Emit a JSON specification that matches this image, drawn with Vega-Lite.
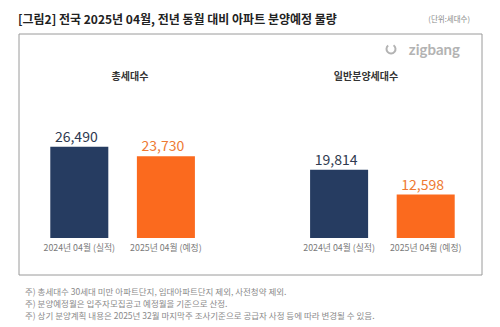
{
  "$schema": "https://vega.github.io/schema/vega-lite/v6.json",
  "width": 500,
  "height": 327,
  "autosize": {"type": "none"},
  "padding": 0,
  "background": "#ffffff",
  "config": {"view": {"stroke": null}, "text": {"font": "Noto Sans CJK KR"}},
  "datasets": {
    "bars": [
      {"id": "t24", "group": "총세대수", "period": "2024년 04월 (실적)", "type": "실적", "value": 26490},
      {"id": "t25", "group": "총세대수", "period": "2025년 04월 (예정)", "type": "예정", "value": 23730},
      {"id": "g24", "group": "일반분양세대수", "period": "2024년 04월 (실적)", "type": "실적", "value": 19814},
      {"id": "g25", "group": "일반분양세대수", "period": "2025년 04월 (예정)", "type": "예정", "value": 12598}
    ],
    "one": [{"k": 1}]
  },
  "layer": [
    {
      "data": {"name": "one"},
      "mark": {"type": "rect", "x": 19, "x2": 482, "y": 34, "y2": 275, "fill": null, "stroke": "#9a9a9a", "strokeWidth": 1},
      "encoding": {}
    },
    {
      "data": {"name": "one"},
      "mark": {"type": "rule", "x": 281, "y": 58, "y2": 232, "stroke": "#c4c4c4", "strokeWidth": 1, "strokeDash": [2, 2]},
      "encoding": {}
    },
    {
      "data": {"name": "one"},
      "mark": {"type": "rule", "x": 36, "x2": 470, "y": 238, "stroke": "#dddddd", "strokeWidth": 1},
      "encoding": {}
    },
    {
      "data": {"name": "bars"},
      "mark": {"type": "bar"},
      "encoding": {
        "x": {"field": "id", "type": "nominal", "axis": null,
              "scale": {"domain": ["t24", "t25", "gap", "g24", "g25"], "range": [36, 469], "paddingInner": 0.33, "paddingOuter": 0.165}},
        "y": {"field": "value", "type": "quantitative", "axis": null,
              "scale": {"domain": [0, 30000], "range": [238, 134.6], "nice": false, "zero": true}},
        "color": {"field": "type", "type": "nominal", "legend": null,
                  "scale": {"domain": ["실적", "예정"], "range": ["#263c61", "#fb6a1e"]}}
      }
    },
    {
      "data": {"name": "bars"},
      "mark": {"type": "text", "baseline": "bottom", "dy": -2, "dx": -3, "fontSize": 14, "fontWeight": "normal"},
      "encoding": {
        "x": {"field": "id", "type": "nominal", "axis": null,
              "scale": {"domain": ["t24", "t25", "gap", "g24", "g25"], "range": [36, 469], "paddingInner": 0.33, "paddingOuter": 0.165}},
        "y": {"field": "value", "type": "quantitative", "axis": null,
              "scale": {"domain": [0, 30000], "range": [238, 134.6], "nice": false, "zero": true}},
        "text": {"field": "value", "type": "quantitative", "format": ","},
        "color": {"condition": {"test": "datum.type === '실적'", "value": "#2f3a50"}, "value": "#ee7a33"}
      }
    },
    {
      "data": {"name": "bars"},
      "mark": {"type": "text", "y": 248, "baseline": "middle", "fontSize": 8.8, "color": "#7a7a7a"},
      "encoding": {
        "x": {"field": "id", "type": "nominal", "axis": null,
              "scale": {"domain": ["t24", "t25", "gap", "g24", "g25"], "range": [36, 469], "paddingInner": 0.33, "paddingOuter": 0.165}},
        "text": {"field": "period"}
      }
    },
    {
      "data": {"values": [{"t": "총세대수", "px": 130}, {"t": "일반분양세대수", "px": 366}]},
      "mark": {"type": "text", "y": 77, "baseline": "middle", "align": "center", "fontSize": 10, "fontWeight": "bold", "color": "#333333"},
      "encoding": {
        "x": {"field": "px", "type": "quantitative", "scale": {"domain": [0, 500], "range": [0, 500]}, "axis": null},
        "text": {"field": "t"}
      }
    },
    {
      "data": {"name": "one"},
      "mark": {"type": "text", "x": 18, "y": 20, "baseline": "middle", "align": "left", "fontSize": 12, "fontWeight": "bold", "color": "#222222", "text": "[그림2] 전국 2025년 04월, 전년 동월 대비 아파트 분양예정 물량"},
      "encoding": {}
    },
    {
      "data": {"name": "one"},
      "mark": {"type": "text", "x": 470, "y": 20, "baseline": "middle", "align": "right", "fontSize": 7.5, "color": "#8a8a8a", "text": "(단위:세대수)"},
      "encoding": {}
    },
    {
      "data": {"name": "one"},
      "mark": {"type": "text", "x": 460, "y": 50, "baseline": "middle", "align": "right", "fontSize": 15, "fontWeight": "bold", "font": "Lato", "color": "#b3b3b3", "text": "zigbang"},
      "encoding": {}
    },
    {
      "data": {"name": "one"},
      "mark": {"type": "arc", "x": 391, "y": 49, "radius": 5.5, "radius2": 3.5, "theta": 0.6, "theta2": 5.6, "fill": "#b3b3b3"},
      "encoding": {}
    },
    {
      "data": {"values": [
        {"t": "주) 총세대수 30세대 미만 아파트단지, 임대아파트단지 제외, 사전청약 제외.", "py": 292},
        {"t": "주) 분양예정월은 입주자모집공고 예정월을 기준으로 산정.", "py": 304},
        {"t": "주) 상기 분양계획 내용은 2025년 32월  마지막주  조사기준으로 공급자 사정 등에 따라 변경될 수 있음.", "py": 316}
      ]},
      "mark": {"type": "text", "x": 25, "baseline": "middle", "align": "left", "fontSize": 8.5, "color": "#8a8a8a"},
      "encoding": {
        "y": {"field": "py", "type": "quantitative", "scale": {"domain": [0, 327], "range": [0, 327]}, "axis": null},
        "text": {"field": "t"}
      }
    }
  ],
  "resolve": {"scale": {"x": "independent", "y": "independent"}}
}
